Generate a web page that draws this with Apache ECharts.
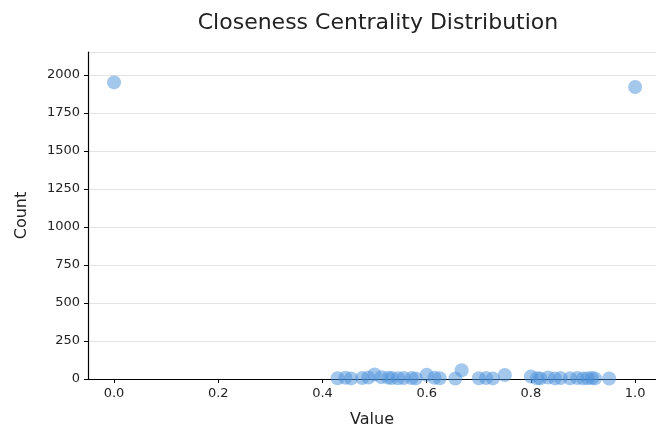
<!DOCTYPE html>
<html>
<head>
<meta charset="utf-8">
<script src="https://cdn.jsdelivr.net/npm/echarts@6/dist/echarts.min.js"></script>
<style>
  html, body { margin: 0; padding: 0; background: #fff; }
  #chart { width: 656px; height: 433px; }
</style>
</head>
<body>
<div id="chart"></div>
<script>
// Closeness centrality values and how many nodes share each value
const closenessValues = [
  0.0,
  0.429, 0.444, 0.455, 0.476, 0.488, 0.5, 0.513, 0.526, 0.533, 0.545,
  0.556, 0.571, 0.579, 0.6, 0.615, 0.625, 0.655, 0.667, 0.7, 0.714,
  0.727, 0.75, 0.8, 0.812, 0.818, 0.833, 0.846, 0.857, 0.875, 0.889,
  0.9, 0.909, 0.917, 0.923, 0.95,
  1.0
];
const nodeCounts = [
  1950,
  5, 8, 4, 6, 10, 30, 12, 9, 6, 5,
  7, 6, 4, 28, 8, 5, 3, 58, 5, 6,
  4, 26, 16, 5, 4, 10, 4, 6, 5, 6,
  4, 5, 6, 4, 3,
  1920
];
const xTicks = [0.0, 0.2, 0.4, 0.6, 0.8, 1.0];

const points = closenessValues.map((v, i) => [v, nodeCounts[i]]);

const font = 'DejaVu Sans';
const chart = echarts.init(document.getElementById('chart'), null, { renderer: 'canvas' });
chart.setOption({
  animation: false,
  backgroundColor: '#ffffff',
  title: {
    text: 'Closeness Centrality Distribution',
    left: 373,
    top: 7,
    textAlign: 'center',
    textStyle: { fontFamily: font, fontSize: 22, fontWeight: 'normal', color: '#222' }
  },
  grid: { left: 88, right: 0, top: 52, bottom: 52, containLabel: false },
  xAxis: {
    type: 'value',
    min: -0.05,
    max: 1.04,
    name: 'Value',
    nameLocation: 'middle',
    nameGap: 33,
    nameTextStyle: { fontFamily: font, fontSize: 16, color: '#222' },
    axisLine: { show: true, onZero: false, lineStyle: { color: '#000', width: 1.2 } },
    axisTick: { show: true, length: 4, customValues: xTicks, lineStyle: { color: '#000' } },
    axisLabel: {
      customValues: xTicks,
      fontFamily: font, fontSize: 13, color: '#222', margin: 8,
      formatter: v => v.toFixed(1)
    },
    splitLine: { show: false }
  },
  yAxis: {
    type: 'value',
    min: 0,
    max: 2150,
    interval: 250,
    name: 'Count',
    nameLocation: 'middle',
    nameGap: 58,
    nameRotate: 90,
    nameTextStyle: { fontFamily: font, fontSize: 16, color: '#222' },
    axisLine: { show: true, onZero: false, lineStyle: { color: '#000', width: 1.2 } },
    axisTick: { show: true, length: 4, lineStyle: { color: '#000' } },
    axisLabel: {
      fontFamily: font, fontSize: 13, color: '#222', margin: 8,
      showMaxLabel: false,
      formatter: v => String(v)
    },
    splitLine: { show: true, lineStyle: { color: '#e3e3e3', width: 1 } }
  },
  series: [{
    type: 'scatter',
    data: points,
    symbolSize: 14,
    clip: false,
    itemStyle: { color: '#4a90d9', opacity: 0.5 }
  }]
});
</script>
</body>
</html>
